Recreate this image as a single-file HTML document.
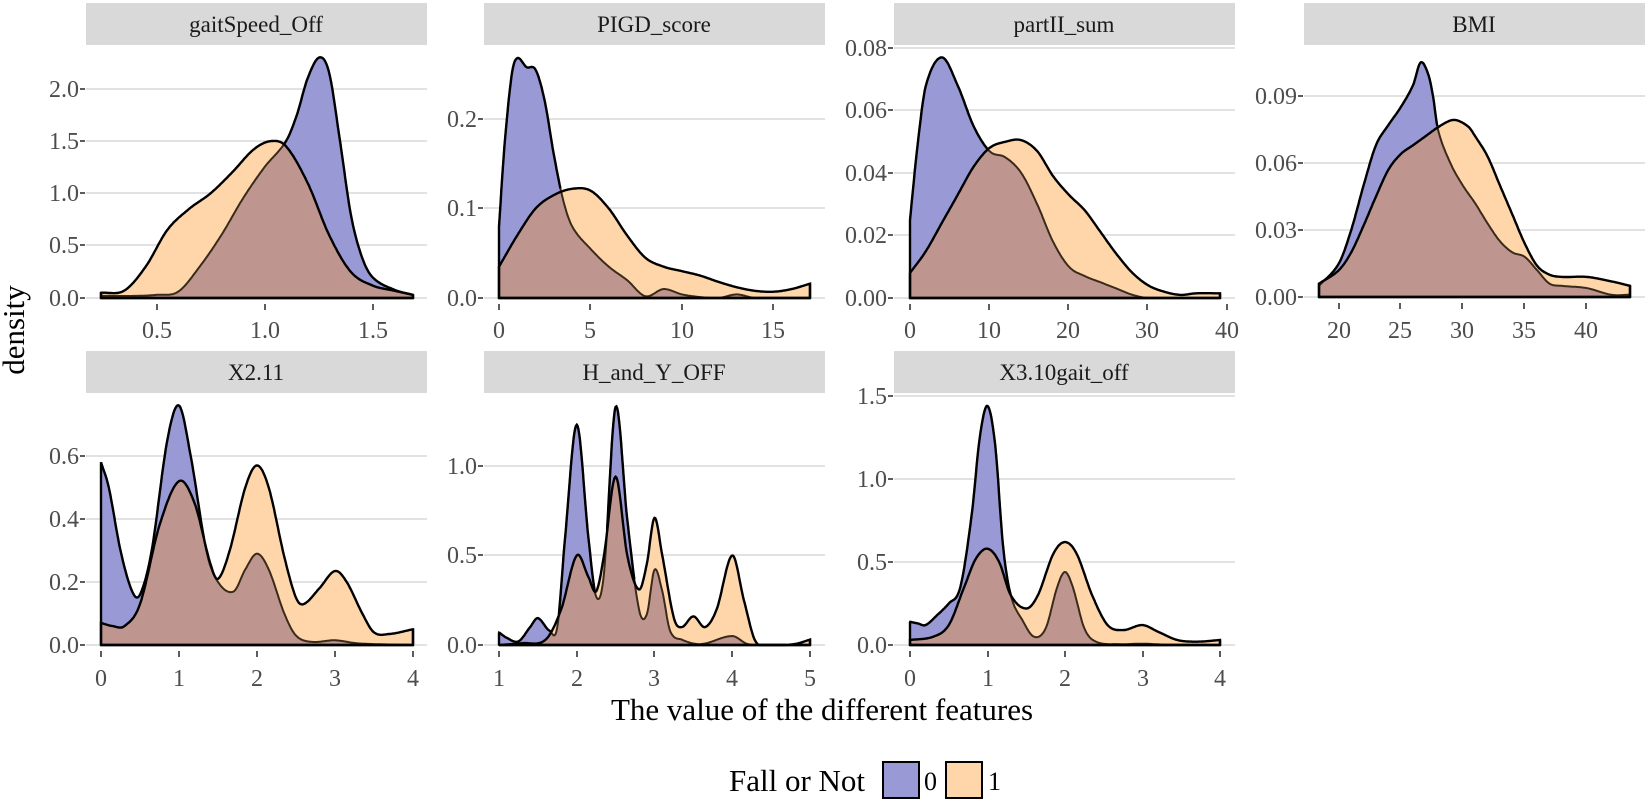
<!DOCTYPE html>
<html><head><meta charset="utf-8"><style>
html,body{margin:0;padding:0;background:#fff;}
svg{display:block;}
.t{font-family:"Liberation Serif",serif;font-size:24px;fill:#4d4d4d;}
.s{font-family:"Liberation Serif",serif;font-size:23px;fill:#1a1a1a;}
.big{font-family:"Liberation Serif",serif;font-size:31px;fill:#000;}
</style></head><body>
<svg id="c" width="1650" height="804" viewBox="0 0 1650 804" xmlns="http://www.w3.org/2000/svg">
<g id="strips" fill="#d9d9d9">
<rect x="86" y="3" width="341" height="42"/><rect x="484" y="3" width="341" height="42"/>
<rect x="894" y="3" width="341" height="42"/><rect x="1304" y="3" width="341" height="42"/>
<rect x="86" y="351" width="341" height="42"/><rect x="484" y="351" width="341" height="42"/>
<rect x="894" y="351" width="341" height="42"/>
</g>
<g text-anchor="middle" class="s">
<text x="256" y="32">gaitSpeed_Off</text><text x="654" y="32">PIGD_score</text>
<text x="1064" y="32">partII_sum</text><text x="1474" y="32">BMI</text>
<text x="256" y="380">X2.11</text><text x="654" y="380">H_and_Y_OFF</text>
<text x="1064" y="380">X3.10gait_off</text>
</g>
<g id="grid" stroke="#d9d9d9" stroke-width="1.6"></g>
<g id="plots"></g>
<g id="ticks" stroke="#333" stroke-width="1.6"></g>
<g class="t" text-anchor="end">
<text x="79" y="306">0.0</text><text x="79" y="253">0.5</text><text x="79" y="201">1.0</text><text x="79" y="149">1.5</text><text x="79" y="97">2.0</text>
<text x="477" y="306">0.0</text><text x="477" y="216">0.1</text><text x="477" y="127">0.2</text>
<text x="887" y="306">0.00</text><text x="887" y="243">0.02</text><text x="887" y="181">0.04</text><text x="887" y="118">0.06</text><text x="887" y="56">0.08</text>
<text x="1297" y="305">0.00</text><text x="1297" y="238">0.03</text><text x="1297" y="171">0.06</text><text x="1297" y="104">0.09</text>
<text x="79" y="653">0.0</text><text x="79" y="590">0.2</text><text x="79" y="527">0.4</text><text x="79" y="464">0.6</text>
<text x="477" y="653">0.0</text><text x="477" y="563">0.5</text><text x="477" y="474">1.0</text>
<text x="887" y="653">0.0</text><text x="887" y="570">0.5</text><text x="887" y="487">1.0</text><text x="887" y="404">1.5</text>
</g>
<g class="t" text-anchor="middle">
<text x="157" y="338">0.5</text><text x="265" y="338">1.0</text><text x="373" y="338">1.5</text>
<text x="499" y="338">0</text><text x="590" y="338">5</text><text x="682" y="338">10</text><text x="773" y="338">15</text>
<text x="910" y="338">0</text><text x="989" y="338">10</text><text x="1068" y="338">20</text><text x="1147" y="338">30</text><text x="1227" y="338">40</text>
<text x="1339" y="338">20</text><text x="1400" y="338">25</text><text x="1462" y="338">30</text><text x="1524" y="338">35</text><text x="1586" y="338">40</text>
<text x="101" y="686">0</text><text x="179" y="686">1</text><text x="257" y="686">2</text><text x="335" y="686">3</text><text x="413" y="686">4</text>
<text x="499" y="686">1</text><text x="577" y="686">2</text><text x="654" y="686">3</text><text x="732" y="686">4</text><text x="810" y="686">5</text>
<text x="910" y="686">0</text><text x="988" y="686">1</text><text x="1065" y="686">2</text><text x="1143" y="686">3</text><text x="1220" y="686">4</text>
</g>
<text class="big" x="822" y="720" text-anchor="middle">The value of the different features</text>
<text class="big" transform="translate(24,330) rotate(-90)" text-anchor="middle">density</text>
<text class="big" x="729" y="791">Fall or Not</text>
<rect x="883" y="762" width="36" height="36" fill="#9999d6" stroke="#000" stroke-width="2"/>
<text class="big" x="924" y="790" style="font-size:26px">0</text>
<rect x="946" y="762" width="36" height="36" fill="#fed6aa" stroke="#000" stroke-width="2"/>
<text class="big" x="988" y="790" style="font-size:26px">1</text>
</svg>
<script>
var P=[
{x0:101,x1:413,d0:0.243,d1:1.688,base:298,sc:52.3/0.5,xp:[86,427],grid:[298,245,193,141,89],xt:[157,265,373],
b:[[0.243,0.02],[0.4,0.02],[0.5,0.03],[0.6,0.06],[0.7,0.3],[0.8,0.6],[0.9,0.95],[1.0,1.25],[1.1,1.5],[1.15,1.75],[1.2,2.1],[1.255,2.3],[1.3,2.15],[1.35,1.5],[1.4,0.8],[1.45,0.4],[1.5,0.2],[1.6,0.08],[1.688,0.03]],
o:[[0.243,0.05],[0.35,0.07],[0.45,0.3],[0.55,0.65],[0.65,0.85],[0.75,1.0],[0.85,1.2],[0.95,1.42],[1.03,1.5],[1.1,1.45],[1.2,1.1],[1.3,0.6],[1.4,0.25],[1.5,0.12],[1.6,0.07],[1.688,0.03]]},
{x0:499,x1:810,d0:0,d1:17,base:298,sc:895,xp:[484,825],grid:[298,208,119],xt:[499,590,682,773],
b:[[0,0.08],[0.3,0.17],[0.7,0.25],[1,0.268],[1.5,0.258],[2,0.255],[2.5,0.22],[3,0.16],[3.5,0.11],[4,0.08],[5,0.055],[6,0.035],[7,0.02],[8,0.002],[9,0.01],[10,0.004],[11,0.001],[12,0],[13,0.004],[14,0],[17,0]],
o:[[0,0.035],[1,0.07],[2,0.1],[3,0.115],[4,0.122],[5,0.12],[6,0.1],[7,0.07],[8,0.045],[9,0.035],[10,0.03],[11,0.025],[12,0.018],[13,0.012],[14,0.008],[15,0.007],[16,0.01],[17,0.016]]},
{x0:910,x1:1220,d0:0,d1:39,base:298,sc:3125,xp:[894,1235],grid:[298,235,173,110,48],xt:[910,989,1068,1147,1227],
b:[[0,0.025],[1,0.05],[2,0.068],[4,0.077],[6,0.068],[8,0.055],[10,0.047],[12,0.045],[14,0.04],[16,0.03],[18,0.018],[20,0.01],[22,0.007],[24,0.005],[26,0.003],[28,0.001],[30,0],[39,0]],
o:[[0,0.008],[2,0.015],[4,0.024],[6,0.033],[8,0.042],[10,0.048],[12,0.05],[14,0.0505],[16,0.047],[18,0.039],[20,0.033],[22,0.028],[24,0.021],[26,0.014],[28,0.008],[30,0.004],[32,0.002],[34,0.001],[36,0.0015],[39,0.0015]]},
{x0:1319,x1:1630,d0:18.4,d1:43.5,base:297,sc:67/0.03,xp:[1304,1645],grid:[297,230,163,96],xt:[1339,1400,1462,1524,1586],
b:[[18.4,0.005],[20,0.015],[21,0.03],[22,0.05],[23,0.068],[24,0.077],[25,0.085],[26,0.095],[26.6,0.105],[27.2,0.1],[27.6,0.09],[28,0.075],[29,0.06],[30,0.05],[31,0.042],[32,0.033],[33,0.025],[34,0.02],[35,0.018],[36,0.012],[37,0.006],[38,0.005],[40,0.004],[42,0.001],[43.5,0.001]],
o:[[18.4,0.006],[20,0.012],[21,0.02],[22,0.032],[23,0.045],[24,0.057],[25,0.064],[26,0.068],[27,0.072],[28,0.076],[29,0.079],[29.6,0.079],[30.5,0.076],[31,0.072],[32,0.063],[33,0.05],[34,0.037],[35,0.024],[36,0.014],[37,0.01],[38,0.009],[40,0.009],[42,0.007],[43.5,0.005]]},
{x0:101,x1:413,d0:0,d1:4,base:645,sc:315,xp:[86,427],grid:[645,582,519,456],xt:[101,179,257,335,413],
b:[[0,0.58],[0.1,0.5],[0.25,0.3],[0.4,0.17],[0.5,0.16],[0.65,0.3],[0.85,0.65],[1.0,0.76],[1.15,0.6],[1.35,0.3],[1.5,0.2],[1.7,0.17],[1.85,0.24],[2.0,0.29],[2.15,0.24],[2.35,0.1],[2.5,0.03],[2.7,0.01],[3.0,0.015],[3.3,0.005],[4,0]],
o:[[0,0.07],[0.15,0.06],[0.3,0.06],[0.5,0.13],[0.75,0.38],[1.0,0.52],[1.2,0.45],[1.4,0.26],[1.5,0.21],[1.65,0.3],[1.85,0.5],[2.0,0.57],[2.15,0.5],[2.35,0.28],[2.5,0.15],[2.6,0.13],[2.8,0.18],[3.0,0.235],[3.15,0.2],[3.35,0.1],[3.5,0.04],[3.7,0.035],[4,0.05]]},
{x0:499,x1:810,d0:1,d1:5,base:645,sc:179,xp:[484,825],grid:[645,555,466],xt:[499,577,654,732,810],
b:[[1,0.07],[1.1,0.04],[1.25,0.02],[1.4,0.1],[1.5,0.15],[1.65,0.08],[1.75,0.1],[1.85,0.6],[2.0,1.23],[2.15,0.6],[2.25,0.27],[2.35,0.4],[2.5,1.33],[2.65,0.7],[2.8,0.2],[2.9,0.17],[3.0,0.42],[3.1,0.3],[3.2,0.08],[3.35,0.03],[3.6,0.005],[4.0,0.05],[4.2,0.005],[4.5,0],[5,0]],
o:[[1,0],[1.3,0.01],[1.6,0.03],[1.8,0.2],[2.0,0.5],[2.15,0.38],[2.25,0.3],[2.35,0.5],[2.5,0.94],[2.65,0.5],[2.8,0.31],[2.9,0.45],[3.0,0.71],[3.1,0.5],[3.25,0.15],[3.35,0.1],[3.5,0.16],[3.65,0.1],[3.8,0.2],[4.0,0.5],[4.15,0.25],[4.3,0.02],[4.5,0],[4.8,0.005],[5,0.03]]},
{x0:910,x1:1220,d0:0,d1:4,base:645,sc:166,xp:[894,1235],grid:[645,562,479,396],xt:[910,988,1065,1143,1220],
b:[[0,0.14],[0.1,0.13],[0.2,0.12],[0.35,0.18],[0.5,0.25],[0.65,0.35],[0.8,0.8],[0.9,1.25],[1.0,1.44],[1.1,1.2],[1.2,0.6],[1.3,0.3],[1.45,0.15],[1.6,0.05],[1.75,0.1],[1.9,0.35],[2.0,0.44],[2.1,0.35],[2.25,0.1],[2.4,0.02],[2.7,0.005],[3.0,0.008],[3.3,0.002],[4,0]],
o:[[0,0.03],[0.3,0.05],[0.5,0.12],[0.7,0.35],[0.85,0.52],[1.0,0.58],[1.15,0.5],[1.3,0.3],[1.5,0.22],[1.65,0.3],[1.85,0.55],[2.0,0.62],[2.15,0.55],[2.35,0.3],[2.55,0.12],[2.75,0.09],[3.0,0.12],[3.2,0.08],[3.45,0.03],[3.7,0.02],[4,0.03]]}
];
function interp(pts,x){
 var n=pts.length;
 for(var i=0;i<n-1;i++){ if(x<=pts[i+1][0]||i==n-2){
   var p0=pts[Math.max(i-1,0)],p1=pts[i],p2=pts[i+1],p3=pts[Math.min(i+2,n-1)];
   var t=(x-p1[0])/(p2[0]-p1[0]); t=Math.max(0,Math.min(1,t));
   var m1=(p2[1]-p0[1])/(p2[0]-p0[0]||1)*(p2[0]-p1[0]);
   var m2=(p3[1]-p1[1])/(p3[0]-p1[0]||1)*(p2[0]-p1[0]);
   var t2=t*t,t3=t2*t;
   var y=(2*t3-3*t2+1)*p1[1]+(t3-2*t2+t)*m1+(-2*t3+3*t2)*p2[1]+(t3-t2)*m2;
   return Math.max(0,y);}}
}
var NS="http://www.w3.org/2000/svg";
function el(par,tag,a){var e=document.createElementNS(NS,tag);for(var k in a)e.setAttribute(k,a[k]);document.getElementById(par).appendChild(e);return e;}
P.forEach(function(p){
 p.grid.forEach(function(g){el("grid","line",{x1:p.xp[0],x2:p.xp[1],y1:g,y2:g});
   el("ticks","line",{x1:p.xp[0]-6,x2:p.xp[0]-1,y1:g,y2:g});});
 p.xt.forEach(function(x){el("ticks","line",{x1:x,x2:x,y1:p.base+6,y2:p.base+12});});
 var N=400,B=[],O=[],M=[];
 for(var i=0;i<=N;i++){var d=p.d0+(p.d1-p.d0)*i/N;var X=p.x0+(p.x1-p.x0)*i/N;
  var yb=interp(p.b,d),yo=interp(p.o,d);
  B.push([X,p.base-yb*p.sc]);O.push([X,p.base-yo*p.sc]);M.push([X,p.base-Math.min(yb,yo)*p.sc]);}
 function path(a){var s="M"+p.x0+","+p.base;a.forEach(function(q){s+="L"+q[0].toFixed(1)+","+q[1].toFixed(1);});return s+"L"+p.x1+","+p.base+"Z";}
 el("plots","path",{d:path(B),fill:"#9999d6"});
 el("plots","path",{d:path(O),fill:"#fed6aa"});
 el("plots","path",{d:path(M),fill:"#bf968f"});
 el("plots","path",{d:path(B),fill:"none",stroke:"#3a2a1a","stroke-width":2});
 el("plots","path",{d:path(O),fill:"none",stroke:"#000","stroke-width":2.4});
});
P.forEach(function(p){
 var N=400,s="",on=false;
 for(var i=0;i<=N;i++){var d=p.d0+(p.d1-p.d0)*i/N;var X=p.x0+(p.x1-p.x0)*i/N;
  var yb=interp(p.b,d),yo=interp(p.o,d);var Y=p.base-yb*p.sc;
  if(yb>=yo-0.0001){s+=(on?"L":"M")+X.toFixed(1)+","+Y.toFixed(1);on=true;}else on=false;}
 el("plots","path",{d:s,fill:"none",stroke:"#000","stroke-width":2.4});
 el("plots","line",{x1:p.x0,x2:p.x1,y1:p.base,y2:p.base,stroke:"#000","stroke-width":2.4});
 el("plots","line",{x1:p.x0,x2:p.x0,y1:p.base,y2:p.base-Math.max(interp(p.b,p.d0),interp(p.o,p.d0))*p.sc,stroke:"#000","stroke-width":2.4});
 el("plots","line",{x1:p.x1,x2:p.x1,y1:p.base,y2:p.base-Math.max(interp(p.b,p.d1),interp(p.o,p.d1))*p.sc,stroke:"#000","stroke-width":2.4});
});
</script>
</body></html>
